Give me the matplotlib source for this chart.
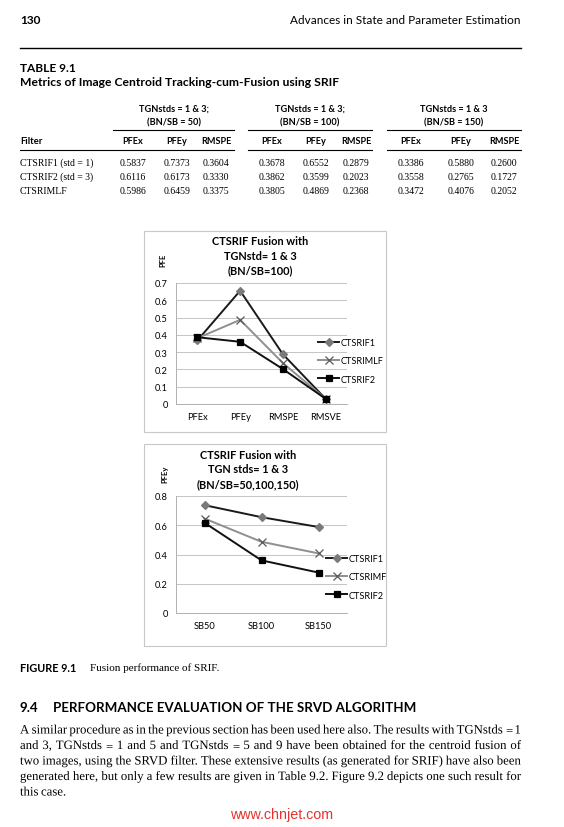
import matplotlib.pyplot as plt
import matplotlib.patheffects as pe
from matplotlib.patches import Rectangle
from matplotlib.ticker import FuncFormatter

W, H = 564, 828

# table 9.1 values
filters = ["CTSRIF1 (std = 1)", "CTSRIF2 (std = 3)", "CTSRIMLF"]
groups = [["TGNstds = 1 & 3;", "(BN/SB = 50)"],
          ["TGNstds = 1 & 3;", "(BN/SB = 100)"],
          ["TGNstds = 1 & 3", "(BN/SB = 150)"]]
metrics = ["PFEx", "PFEy", "RMSPE"]
rows = [["0.5837", "0.7373", "0.3604", "0.3678", "0.6552", "0.2879", "0.3386", "0.5880", "0.2600"],
        ["0.6116", "0.6173", "0.3330", "0.3862", "0.3599", "0.2023", "0.3558", "0.2765", "0.1727"],
        ["0.5986", "0.6459", "0.3375", "0.3805", "0.4869", "0.2368", "0.3472", "0.4076", "0.2052"]]

# chart 1: BN/SB = 100
cats1 = ["PFEx", "PFEy", "RMSPE", "RMSVE"]
ctsrif1_a = [0.3678, 0.6552, 0.2879, 0.03]
ctsrimlf_a = [0.3805, 0.4869, 0.2368, 0.03]
ctsrif2_a = [0.3862, 0.3599, 0.2023, 0.03]

# chart 2: PFEy over SB
cats2 = ["SB50", "SB100", "SB150"]
ctsrif1_b = [0.7373, 0.6552, 0.5880]
ctsrimf_b = [0.6459, 0.4869, 0.4076]
ctsrif2_b = [0.6173, 0.3599, 0.2765]

para = ["A similar procedure as in the previous section has been used here also. The results with TGNstds = 1",
        "and 3, TGNstds = 1 and 5 and TGNstds = 5 and 9 have been obtained for the centroid fusion of",
        "two images, using the SRVD filter. These extensive results (as generated for SRIF) have also been",
        "generated here, but only a few results are given in Table 9.2. Figure 9.2 depicts one such result for",
        "this case."]

SANS = "Lato"
SERIF = "Liberation Serif"


def fx(x):
    return x / W


def fy(y):
    return 1 - y / H


def txt(x, y, s, **kw):
    kw.setdefault("va", "center")
    return fig.text(fx(x), fy(y), s, **kw)


def hline(x0, x1, y, lw=0.9):
    fig.add_artist(plt.Line2D([fx(x0), fx(x1)], [fy(y), fy(y)], color="black", lw=lw))


fig = plt.figure(figsize=(W / 100, H / 100), dpi=100)

# page header
txt(20, 20, "130", family=SANS, weight="bold", size=8.5)
txt(521, 20, "Advances in State and Parameter Estimation", family=SANS, size=8.5, ha="right")
hline(20, 521, 49, lw=1.0)

# table
txt(20, 68, "TABLE 9.1", family=SANS, weight="bold", size=8.6)
txt(20, 83, "Metrics of Image Centroid Tracking-cum-Fusion using SRIF", family=SANS, weight="bold", size=8.7)

col_x = [133, 177, 216, 272, 316, 356, 411, 461, 504]
grp_x = [174, 310, 454]
seg = [(113, 234), (248, 372), (387, 521)]
for g, (l1, l2) in enumerate(groups):
    txt(grp_x[g], 109, l1, family=SANS, weight="bold", size=6.6, ha="center")
    txt(grp_x[g], 123, l2, family=SANS, weight="bold", size=6.6, ha="center")
    hline(seg[g][0], seg[g][1], 131, lw=0.8)
    hline(20 if g == 0 else seg[g][0], seg[g][1], 151, lw=0.8)
txt(20, 142, "Filter", family=SANS, weight="bold", size=6.8)
for j, cx in enumerate(col_x):
    txt(cx, 142, metrics[j % 3], family=SANS, weight="bold", size=6.6, ha="center")
for i, name in enumerate(filters):
    y = 163 + 14 * i
    txt(20, y, name, family=SERIF, size=7)
    for j, cx in enumerate(col_x):
        txt(cx, y, rows[i][j], family=SERIF, size=7, ha="center")


def chart(box, axpos, cats, series, ylim, ystep, title, title_x, title_y, ylab, ylab_xy, leg_xy):
    x0, y0, x1, y1 = box
    fig.add_artist(Rectangle((fx(x0), fy(y1)), fx(x1 - x0), (y1 - y0) / H,
                             fill=False, ec="#c8c8c8", lw=0.8))
    ax = fig.add_axes([fx(axpos[0]), fy(axpos[3]), fx(axpos[2] - axpos[0]), (axpos[3] - axpos[1]) / H])
    xs = range(len(cats))
    for vals, lab, lc, mk, mc, ms in series:
        ax.plot(xs, vals, color=lc, lw=1.4, marker=mk, mfc=mc, mec=mc, ms=ms, mew=0.9, label=lab)
    ax.set_xlim(-0.5, len(cats) - 0.5)
    ax.set_ylim(0, ylim)
    ticks = [k * ystep for k in range(int(round(ylim / ystep)) + 1)]
    ax.set_yticks(ticks)
    ax.yaxis.set_major_formatter(FuncFormatter(lambda v, _: "0" if v == 0 else f"{v:.1f}"))
    ax.set_xticks(list(xs))
    ax.set_xticklabels(cats)
    ax.tick_params(length=0, labelsize=6.7, pad=6)
    for t in ax.get_xticklabels() + ax.get_yticklabels():
        t.set_family(SANS)
    ax.grid(axis="y", color="#c4c4c4", lw=0.7)
    ax.set_axisbelow(True)
    for s in ["top", "right"]:
        ax.spines[s].set_visible(False)
    for s in ["left", "bottom"]:
        ax.spines[s].set_color("#b0b0b0")
        ax.spines[s].set_linewidth(0.7)
    ax.patch.set_alpha(0)
    txt(title_x, title_y, title, family=SANS, weight="bold", size=7.9, ha="center", linespacing=1.4)
    txt(ylab_xy[0], ylab_xy[1], ylab, family=SANS, weight="bold", size=5.5, ha="center", rotation=90)
    leg = ax.legend(loc="center left", bbox_to_anchor=(fx(leg_xy[0]), fy(leg_xy[1])),
                    bbox_transform=fig.transFigure, frameon=False, fontsize=6.6,
                    handlelength=2.3, handletextpad=0.2, labelspacing=1.0, borderpad=0, borderaxespad=0)
    for t in leg.get_texts():
        t.set_family(SANS)
    return ax


chart((144, 232, 386, 433), (176, 284, 347, 405), cats1,
      [(ctsrif1_a, "CTSRIF1", "#1a1a1a", "D", "#7a7a7a", 3.6),
       (ctsrimlf_a, "CTSRIMLF", "#8f8f8f", "x", "#5a5a5a", 6),
       (ctsrif2_a, "CTSRIF2", "#111111", "s", "#000000", 5)],
      0.7, 0.1, "CTSRIF Fusion with\nTGNstd= 1 & 3\n(BN/SB=100)", 260, 256, "PFE", (163, 260), (318, 362))

chart((144, 445, 386, 647), (176, 497, 347, 614), cats2,
      [(ctsrif1_b, "CTSRIF1", "#1a1a1a", "D", "#7a7a7a", 3.6),
       (ctsrimf_b, "CTSRIMF", "#8f8f8f", "x", "#5a5a5a", 6),
       (ctsrif2_b, "CTSRIF2", "#111111", "s", "#000000", 5)],
      0.8, 0.2, "CTSRIF Fusion with\nTGN stds= 1 & 3\n(BN/SB=50,100,150)", 248, 470, "PFEy", (165, 474), (326, 578))

# caption and section text
txt(20, 668, "FIGURE 9.1", family=SANS, weight="bold", size=7.8)
txt(90, 668, "Fusion performance of SRIF.", family=SERIF, size=8)
txt(20, 708, "9.4", family=SANS, weight="bold", size=9.6)
txt(53, 708, "PERFORMANCE EVALUATION OF THE SRVD ALGORITHM", family=SANS, weight="bold", size=9.6)

# justified paragraph, word by word on a common baseline
# words drawn as paths keep one sub-pixel baseline; "=" stays hinted so both bars show
renderer = fig.canvas.get_renderer()
for k, line in enumerate(para):
    y = 734.5 + 15.5 * k
    words = line.split(" ")
    objs = []
    for w in words:
        effects = [] if w == "=" else [pe.Normal()]
        objs.append(txt(20, y, w, family=SERIF, size=9.2, va="baseline", path_effects=effects))
    widths = [o.get_window_extent(renderer).width for o in objs]
    if k < len(para) - 1:
        gap = (521 - 20 - sum(widths)) / (len(words) - 1)
    else:
        gap = 2.6
    x = 20
    for o, w in zip(objs, widths):
        o.set_x(fx(x))
        x += w + gap

txt(282, 815, "www.chnjet.com", family="Liberation Sans", size=10.3, color="#e8322c", ha="center")

fig.savefig("out.png", dpi=100)
